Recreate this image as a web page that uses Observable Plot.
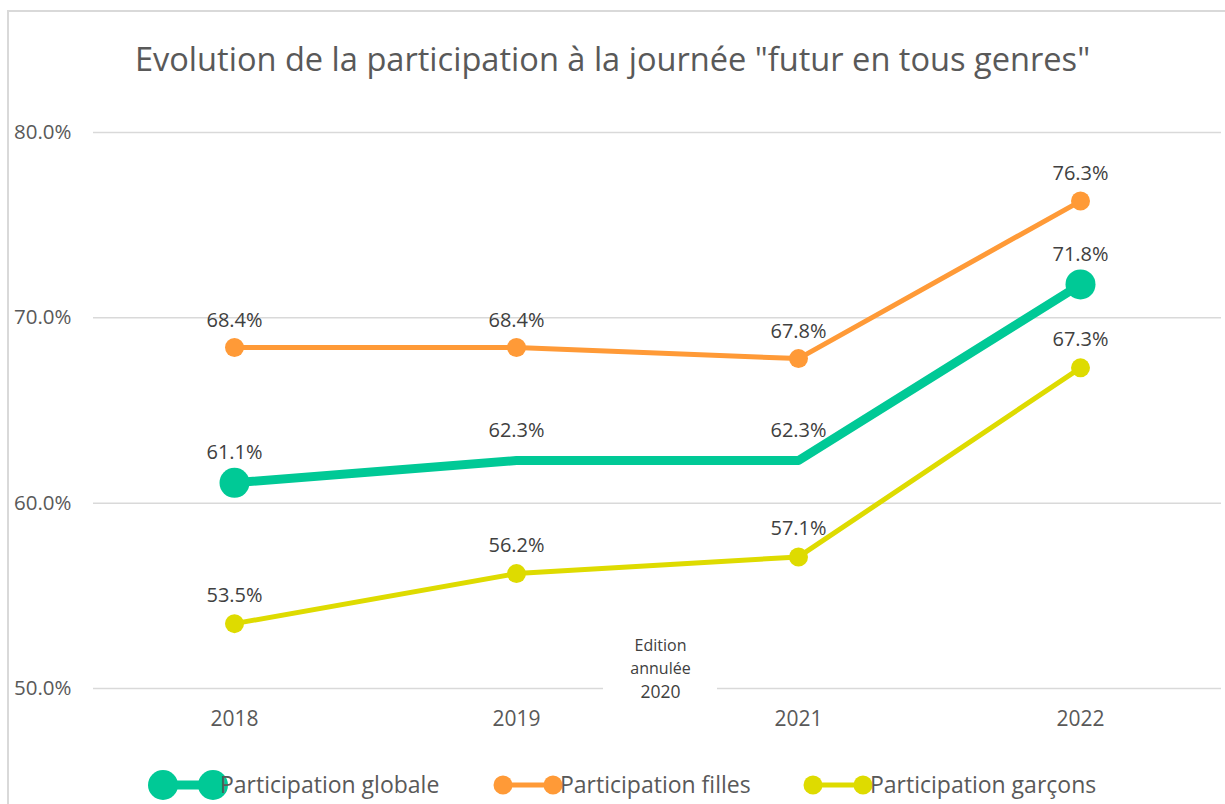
<!DOCTYPE html>
<html>
<head>
<meta charset="utf-8">
<script src="https://cdn.jsdelivr.net/npm/d3@7"></script>
<script src="https://cdn.jsdelivr.net/npm/@observablehq/plot@0.6"></script>
<style>
  html, body { margin: 0; padding: 0; background: #fff; width: 1225px; height: 804px; overflow: hidden; }
  #frame { position: absolute; left: 7px; top: 10px; width: 1400px; height: 1000px;
           border-left: 2px solid #d9d9d9; border-top: 2px solid #d9d9d9; box-sizing: border-box; }
  #title { position: absolute; left: 0; width: 1225px; top: 39px; text-align: center;
           font-family: "Open Sans", sans-serif; font-size: 32.6px; color: #595959; white-space: nowrap; line-height: 1.2; }
  #chart { position: absolute; left: 0; top: 0; }
</style>
</head>
<body>
<div id="frame"></div>
<div id="chart"></div>
<div id="title">Evolution de la participation à la journée "futur en tous genres"</div>
<script>
const years = ["2018", "2019", "2021", "2022"];
const globale = [61.1, 62.3, 62.3, 71.8];
const filles = [68.4, 68.4, 67.8, 76.3];
const garcons = [53.5, 56.2, 57.1, 67.3];
const seriesNames = ["Participation globale", "Participation filles", "Participation garçons"];
const yTicks = [50, 60, 70, 80];
const noteLines = ["Edition", "annulée"];
const noteYear = ["2020"];

const colors = { "Participation globale": "#00C996", "Participation filles": "#FF9A37", "Participation garçons": "#DEDB00" };
const widths = { "Participation globale": 9, "Participation filles": 5, "Participation garçons": 5 };
const radii = { "Participation globale": 15, "Participation filles": 9.5, "Participation garçons": 9.5 };
const labelDy = { "Participation globale": -30, "Participation filles": -27, "Participation garçons": -28 };

const allSeries = [globale, filles, garcons];
const rows = [];
seriesNames.forEach((s, i) => years.forEach((y, j) => rows.push({ series: s, year: y, value: allSeries[i][j] })));

const fmt = v => v.toFixed(1) + "%";
const font = '"Open Sans", sans-serif';

const drawOrder = ["Participation filles", "Participation garçons", "Participation globale"];
const marks = [
  Plot.gridY(yTicks, { stroke: "#d9d9d9", strokeOpacity: 1, strokeWidth: 1.5 }),
  Plot.axisY(yTicks, { tickSize: 0, tickPadding: 22, tickFormat: fmt, fontSize: 20.5, fill: "#595959", label: null }),
  Plot.axisX({ tickSize: 0, tickPadding: 23, fontSize: 21, fill: "#595959", label: null })
];
for (const s of drawOrder) {
  const d = rows.filter(r => r.series === s);
  marks.push(Plot.line(d, { x: "year", y: "value", stroke: colors[s], strokeWidth: widths[s], curve: "linear" }));
  // the global series only carries markers at its first and last edition
  const dd = s === "Participation globale" ? [d[0], d[d.length - 1]] : d;
  marks.push(Plot.dot(dd, { x: "year", y: "value", r: radii[s], fill: colors[s], stroke: null }));
}
for (const s of drawOrder) {
  const d = rows.filter(r => r.series === s);
  marks.push(Plot.text(d, { x: "year", y: "value", text: d => fmt(d.value), dy: labelDy[s], fontSize: 20, fill: "#404040" }));
}
marks.push(Plot.text([noteLines.join("\n")], { frameAnchor: "bottom", dx: 3, dy: -33, lineAnchor: "middle", lineHeight: 1.4, fontSize: 16, fill: "#404040" }));
marks.push(Plot.text(noteYear, { frameAnchor: "bottom", dx: 3, dy: 4, lineAnchor: "middle", fontSize: 17.5, fill: "#404040" }));

const plot = Plot.plot({
  width: 1225, height: 804,
  marginTop: 132, marginBottom: 116, marginLeft: 93, marginRight: 4,
  style: { fontFamily: font, background: "transparent", overflow: "visible" },
  x: { type: "point", domain: years, padding: 0.5 },
  y: { domain: [50, 80] },
  marks
});
document.getElementById("chart").appendChild(plot);

// white text-box behind the "Edition annulée 2020" note (covers gridline)
const xs = plot.scale("x"), ys = plot.scale("y");
const mid = (xs.apply("2019") + xs.apply("2021")) / 2 + 3;
const svg = d3.select(plot);
const grid = plot.querySelector('g[aria-label="y-grid"]');
const box = document.createElementNS("http://www.w3.org/2000/svg", "rect");
d3.select(box).attr("x", mid - 57).attr("y", ys.apply(50) - 10).attr("width", 114).attr("height", 20).attr("fill", "white");
grid.parentNode.insertBefore(box, grid.nextSibling);

// legend
const legendItems = [
  { name: "Participation globale", x0: 163 },
  { name: "Participation filles", x0: 503 },
  { name: "Participation garçons", x0: 813 }
];
const lg = svg.append("g").attr("font-family", font).attr("text-anchor", "start");
const ly = 785;
for (const it of legendItems) {
  const c = colors[it.name];
  lg.append("line").attr("x1", it.x0).attr("x2", it.x0 + 50).attr("y1", ly).attr("y2", ly)
    .attr("stroke", c).attr("stroke-width", widths[it.name]);
  lg.append("circle").attr("cx", it.x0).attr("cy", ly).attr("r", radii[it.name]).attr("fill", c);
  lg.append("circle").attr("cx", it.x0 + 50).attr("cy", ly).attr("r", radii[it.name]).attr("fill", c);
  lg.append("text").attr("x", it.x0 + 57).attr("y", ly).attr("dy", "0.36em")
    .attr("font-size", 23).attr("fill", "#595959").text(it.name);
}
</script>
</body>
</html>
